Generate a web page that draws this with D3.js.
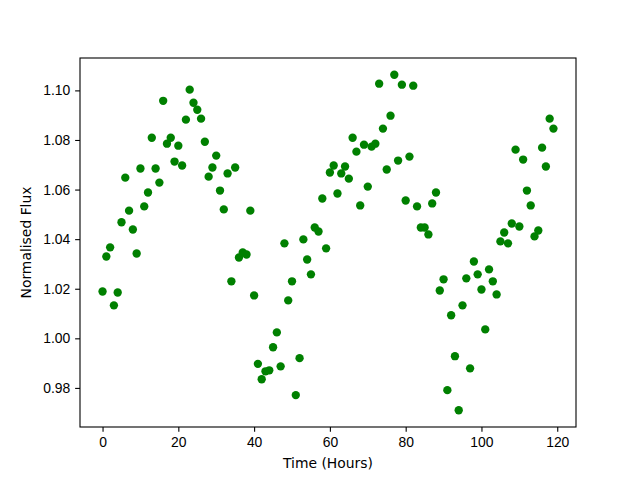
<!DOCTYPE html>
<html lang="en">
<head>
<meta charset="UTF-8">
<title>Normalised Flux</title>
<script src="https://d3js.org/d3.v7.min.js"></script>
<style>
    body { margin: 0; background: #fff; }
    svg { display: block; font-family: "DejaVu Sans", sans-serif; }
    .axis text { font-size: 13.9px; fill: #000; }
    .axis line { stroke: #000; stroke-width: 1.1; }
    .axis path { display: none; }
</style>
</head>
<body>
<div id="chart"></div>
<script>
    // hours since start of observation
    const hours = d3.range(0, 120);
    // normalised flux, one reading per hour
    const flux = [
        1.0189, 1.0330, 1.0367, 1.0133, 1.0185, 1.0468, 1.0648, 1.0515, 1.0439, 1.0342,
        1.0685, 1.0532, 1.0588, 1.0809, 1.0685, 1.0628, 1.0958, 1.0785, 1.0809, 1.0713,
        1.0777, 1.0697, 1.0882, 1.1003, 1.0950, 1.0922, 1.0886, 1.0793, 1.0652, 1.0689,
        1.0737, 1.0596, 1.0520, 1.0665, 1.0230, 1.0689, 1.0326, 1.0346, 1.0338, 1.0515,
        1.0173, 0.9897, 0.9835, 0.9867, 0.9871, 0.9964, 1.0024, 0.9887, 1.0383, 1.0153,
        1.0230, 0.9771, 0.9920, 1.0399, 1.0318, 1.0258, 1.0447, 1.0431, 1.0564, 1.0363,
        1.0669, 1.0697, 1.0584, 1.0665, 1.0693, 1.0644, 1.0809, 1.0753, 1.0536, 1.0781,
        1.0612, 1.0773, 1.0785, 1.1027, 1.0846, 1.0681, 1.0898, 1.1063, 1.0717, 1.1023,
        1.0556, 1.0733, 1.1019, 1.0532, 1.0447, 1.0447, 1.0419, 1.0544, 1.0588, 1.0193,
        1.0238, 0.9791, 1.0093, 0.9928, 0.9710, 1.0133, 1.0242, 0.9879, 1.0310, 1.0258,
        1.0197, 1.0036, 1.0278, 1.0230, 1.0177, 1.0391, 1.0427, 1.0383, 1.0463, 1.0761,
        1.0451, 1.0721, 1.0596, 1.0536, 1.0411, 1.0435, 1.0769, 1.0693, 1.0886, 1.0846
    ];
    const xTicks = [0, 20, 40, 60, 80, 100, 120];
    const yTicks = [0.98, 1.00, 1.02, 1.04, 1.06, 1.08, 1.10];

    const width = 640, height = 480;
    const margin = { top: 58, right: 64, bottom: 53, left: 80 };
    const tick = 4.86;

    const svg = d3.select("#chart").append("svg")
        .attr("width", width).attr("height", height);

    // matplotlib style 5% padding round the data
    function padded(ext) {
        const p = (ext[1] - ext[0]) * 0.05;
        return [ext[0] - p, ext[1] + p];
    }

    const x = d3.scaleLinear()
        .domain(padded(d3.extent(hours)))
        .range([margin.left, width - margin.right]);
    const y = d3.scaleLinear()
        .domain(padded(d3.extent(flux)))
        .range([height - margin.bottom, margin.top]);

    svg.append("g")
        .attr("class", "axis")
        .attr("transform", `translate(0,${height - margin.bottom})`)
        .call(d3.axisBottom(x).tickValues(xTicks).tickFormat(d3.format("d"))
            .tickSize(tick).tickPadding(tick));

    svg.append("g")
        .attr("class", "axis")
        .attr("transform", `translate(${margin.left},0)`)
        .call(d3.axisLeft(y).tickValues(yTicks).tickFormat(d3.format(".2f"))
            .tickSize(tick).tickPadding(tick));

    // points
    svg.append("g")
        .selectAll("circle")
        .data(hours)
        .join("circle")
        .attr("cx", (d, i) => x(hours[i]))
        .attr("cy", (d, i) => y(flux[i]))
        .attr("r", 4.17)
        .attr("fill", "#008000");

    // frame
    svg.append("rect")
        .attr("x", margin.left).attr("y", margin.top)
        .attr("width", width - margin.left - margin.right)
        .attr("height", height - margin.top - margin.bottom)
        .attr("fill", "none").attr("stroke", "#000").attr("stroke-width", 1.1);

    svg.append("text")
        .attr("x", (margin.left + width - margin.right) / 2)
        .attr("y", 468)
        .attr("text-anchor", "middle")
        .attr("font-size", 13.9)
        .text("Time (Hours)");

    svg.append("text")
        .attr("transform", `translate(31,${(margin.top + height - margin.bottom) / 2}) rotate(-90)`)
        .attr("text-anchor", "middle")
        .attr("font-size", 13.9)
        .text("Normalised Flux");
</script>
</body>
</html>
